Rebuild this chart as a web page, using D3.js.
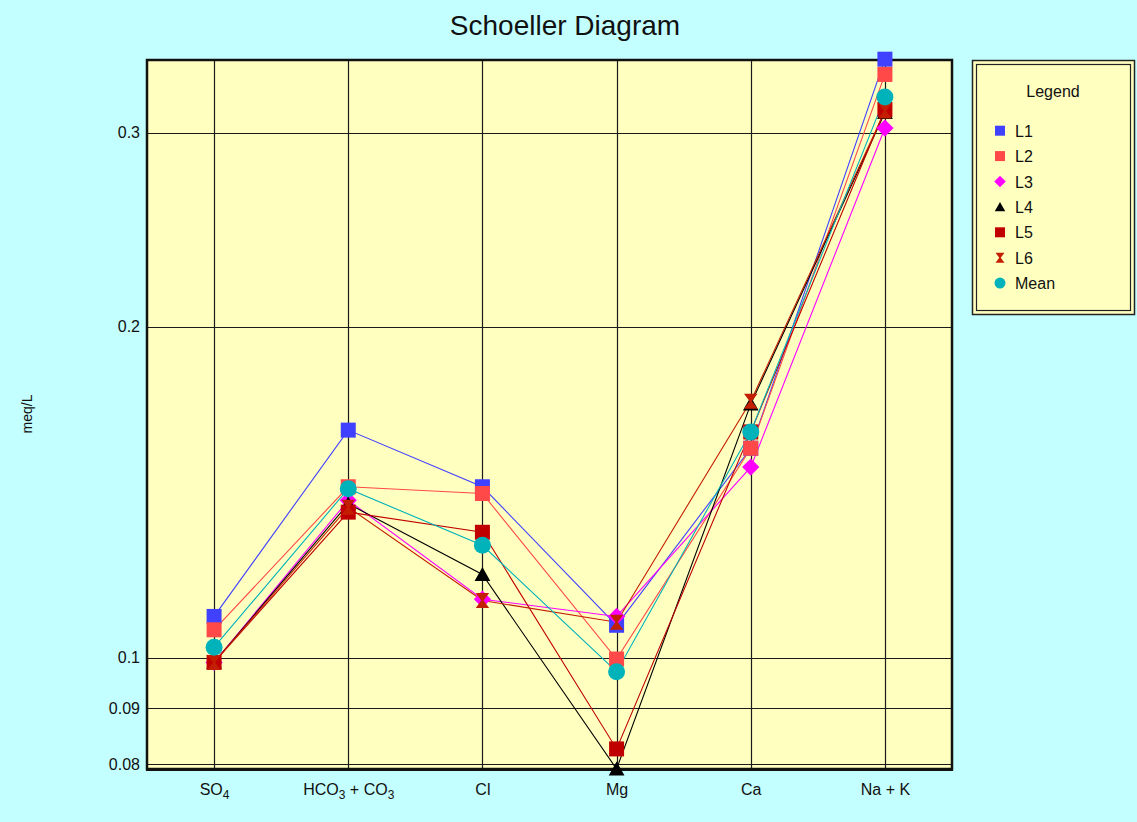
<!DOCTYPE html>
<html>
<head>
<meta charset="utf-8">
<script src="https://cdn.jsdelivr.net/npm/d3@7"></script>
<style>
  html, body { margin: 0; padding: 0; background: #C4FFFF; }
  svg { display: block; font-family: "Liberation Sans", Arial, sans-serif; }
</style>
</head>
<body>
<svg id="chart" width="1137" height="822"></svg>
<script>
// ---- data ----
const categories = ["SO4", "HCO3 + CO3", "Cl", "Mg", "Ca", "Na + K"];
const L1   = [0.109, 0.161, 0.143, 0.107, 0.155, 0.350];
const L2   = [0.106, 0.143, 0.141, 0.0997, 0.155, 0.339];
const L3   = [0.099, 0.139, 0.113, 0.109, 0.149, 0.303];
const L4   = [0.099, 0.138, 0.119, 0.0792, 0.170, 0.313];
const L5   = [0.099, 0.1356, 0.130, 0.0826, 0.1604, 0.315];
const L6   = [0.099, 0.137, 0.1127, 0.1077, 0.171, 0.314];
const Mean = [0.1022, 0.1424, 0.1265, 0.0971, 0.1604, 0.3233];
const seriesNames = ["L1", "L2", "L3", "L4", "L5", "L6", "Mean"];
const tickValues = [0.08, 0.09, 0.1, 0.2, 0.3];
const tickLabels = ["0.08", "0.09", "0.1", "0.2", "0.3"];
const yDomain = [0.0792, 0.3494];

const series = [
  {name: "L1", values: L1, color: "#4040FF", shape: "square"},
  {name: "L2", values: L2, color: "#FF4848", shape: "square"},
  {name: "L3", values: L3, color: "#FF00FF", shape: "diamond"},
  {name: "L4", values: L4, color: "#000000", shape: "triangle"},
  {name: "L5", values: L5, color: "#C00000", shape: "square"},
  {name: "L6", values: L6, color: "#C41E00", shape: "hourglass"},
  {name: "Mean", values: Mean, color: "#00B2BA", shape: "circle"}
];

// ---- layout ----
const svg = d3.select("#chart");
const W = 1137, H = 822;
const plot = {x0: 147, x1: 952, y0: 60, y1: 769};

svg.append("rect").attr("width", W).attr("height", H).attr("fill", "#C4FFFF");

const x = d3.scalePoint().domain(categories).range([plot.x0, plot.x1]).padding(0.5);
const y = d3.scaleLog().domain(yDomain).range([plot.y1, plot.y0]);

// plot background
svg.append("rect")
  .attr("x", plot.x0).attr("y", plot.y0)
  .attr("width", plot.x1 - plot.x0).attr("height", plot.y1 - plot.y0)
  .attr("fill", "#FFFFC0");

// grid
const grid = svg.append("g");
grid.selectAll("line.h").data(tickValues).enter().append("line")
  .attr("x1", plot.x0).attr("x2", plot.x1)
  .attr("y1", d => Math.round(y(d)) + 0.5).attr("y2", d => Math.round(y(d)) + 0.5)
  .attr("stroke", "#1a1a1a").attr("stroke-width", 1.2);
grid.selectAll("line.v").data(categories).enter().append("line")
  .attr("y1", plot.y0).attr("y2", plot.y1)
  .attr("x1", d => Math.round(x(d)) + 0.5).attr("x2", d => Math.round(x(d)) + 0.5)
  .attr("stroke", "#1a1a1a").attr("stroke-width", 1.2);

// y axis labels via d3 axis
const yAxis = d3.axisLeft(y).tickValues(tickValues)
  .tickFormat((d, i) => tickLabels[i]).tickSize(0).tickPadding(7);
const yg = svg.append("g").attr("transform", `translate(${plot.x0},0)`).call(yAxis);
yg.select(".domain").remove();
yg.selectAll("text").attr("font-size", 16).attr("fill", "#111")
  .attr("font-family", "'Liberation Sans', Arial, sans-serif");

// x axis labels with subscripts
const xAxis = d3.axisBottom(x).tickSize(0).tickPadding(0);
const xg = svg.append("g").attr("transform", `translate(0,${plot.y1})`).call(xAxis);
xg.select(".domain").remove();
xg.selectAll(".tick text").remove();
function subLabel(sel, label) {
  const parts = label.split(/(\d+)/).filter(s => s.length);
  let shifted = false;
  parts.forEach(p => {
    if (/^\d+$/.test(p)) {
      sel.append("tspan").attr("font-size", 12).attr("dy", 4).text(p);
      shifted = true;
    } else {
      const t = sel.append("tspan").text(p);
      if (shifted) { t.attr("dy", -4); shifted = false; }
    }
  });
}
xg.selectAll(".tick").each(function(d) {
  const t = d3.select(this).append("text")
    .attr("y", 26).attr("text-anchor", "middle")
    .attr("font-size", 16).attr("fill", "#111")
    .attr("font-family", "'Liberation Sans', Arial, sans-serif");
  subLabel(t, d);
});

// plot border
svg.append("rect")
  .attr("x", plot.x0).attr("y", plot.y0)
  .attr("width", plot.x1 - plot.x0).attr("height", plot.y1 - plot.y0)
  .attr("fill", "none").attr("stroke", "#111").attr("stroke-width", 2.5);
svg.append("line").attr("x1", plot.x0 - 1).attr("x2", plot.x1 + 1)
  .attr("y1", plot.y1 + 1).attr("y2", plot.y1 + 1).attr("stroke", "#111").attr("stroke-width", 2);

// lines
const lineGen = d3.line().x((d, i) => x(categories[i])).y(d => y(d));
svg.append("g").selectAll("path").data(series).enter().append("path")
  .attr("d", s => lineGen(s.values))
  .attr("fill", "none").attr("stroke", s => s.color).attr("stroke-width", 1.1);

// marker shapes
function shapePath(shape, r) {
  switch (shape) {
    case "square": return `M${-r},${-r}H${r}V${r}H${-r}Z`;
    case "diamond": return `M0,${-r * 1.15}L${r * 1.15},0L0,${r * 1.15}L${-r * 1.15},0Z`;
    case "triangle": return `M0,${-r}L${r * 1.05},${r * 0.85}L${-r * 1.05},${r * 0.85}Z`;
    case "hourglass": return `M${-r * 0.9},${-r}H${r * 0.9}L${r * 0.15},0L${r * 0.9},${r}H${-r * 0.9}L${-r * 0.15},0Z`;
    case "circle": return d3.symbol(d3.symbolCircle, Math.PI * r * r)();
  }
}

const marks = svg.append("g");
series.forEach(s => {
  marks.append("g").selectAll("path").data(s.values).enter().append("path")
    .attr("transform", (d, i) => `translate(${x(categories[i])},${y(d)})`)
    .attr("d", shapePath(s.shape, s.shape === "circle" ? 8.5 : 7.5))
    .attr("fill", s.color);
});

// title
svg.append("text").attr("x", 565).attr("y", 35).attr("text-anchor", "middle")
  .attr("font-size", 28).attr("fill", "#111").text("Schoeller Diagram");

// y label
svg.append("text").attr("transform", "translate(32,414) rotate(-90)")
  .attr("text-anchor", "middle").attr("font-size", 14).attr("fill", "#111").text("meq/L");

// legend
const lg = svg.append("g");
lg.append("rect").attr("x", 972.5).attr("y", 60.5).attr("width", 162).attr("height", 254)
  .attr("fill", "#FFFFC0").attr("stroke", "#222").attr("stroke-width", 1.5);
lg.append("rect").attr("x", 976.5).attr("y", 64.5).attr("width", 154).attr("height", 246)
  .attr("fill", "none").attr("stroke", "#222").attr("stroke-width", 1.2);
lg.append("text").attr("x", 1053).attr("y", 97).attr("text-anchor", "middle")
  .attr("font-size", 16).attr("fill", "#111").text("Legend");
const items = lg.selectAll("g.item").data(series).enter().append("g")
  .attr("transform", (d, i) => `translate(1000,${130.7 + i * 25.4})`);
items.append("path").attr("d", s => shapePath(s.shape, s.shape === "circle" ? 5.5 : 5))
  .attr("fill", s => s.color);
items.append("text").attr("x", 15).attr("y", 6).attr("font-size", 16).attr("fill", "#111")
  .text((s, i) => seriesNames[i]);
</script>
</body>
</html>
